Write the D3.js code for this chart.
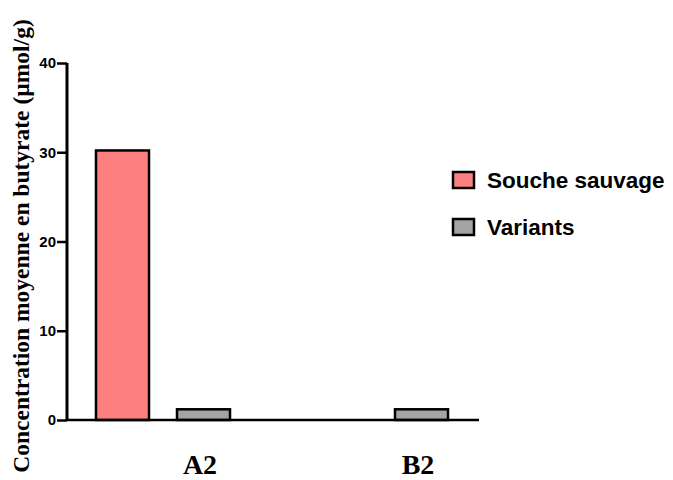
<!DOCTYPE html>
<html>
<head>
<meta charset="utf-8">
<script src="https://cdn.jsdelivr.net/npm/d3@7"></script>
<style>
	body { margin: 0; background: #fff; }
	svg { display: block; }
</style>
</head>
<body>
<div id="chart"></div>
<script>
// Chart data
var categories = ["A2", "B2"];
var seriesNames = ["Souche sauvage", "Variants"];
var wildValues = [30.2, null];
var variantValues = [1.2, 1.2];
var yTicks = [0, 10, 20, 30, 40];
var colors = ["#ff8080", "#a3a3a8"];

var width = 673, height = 480;

var svg = d3.select("#chart").append("svg")
	.attr("width", width)
	.attr("height", height);

// Scales
var y = d3.scaleLinear().domain([0, 40]).range([420, 63]);
var x0 = d3.scaleBand().domain(categories).range([96, 532]);
var bw = 53;

// Bars
var rows = [];
categories.forEach(function (c, i) {
	rows.push({ cat: c, series: seriesNames[0], value: wildValues[i] });
	rows.push({ cat: c, series: seriesNames[1], value: variantValues[i] });
});

svg.selectAll(".bar")
	.data(rows.filter(function (d) { return d.value != null; }))
	.enter().append("rect")
	.attr("class", "bar")
	.attr("x", function (d) { return x0(d.cat) + (d.series == seriesNames[0] ? 0 : 81); })
	.attr("width", bw)
	.attr("y", function (d) { return y(d.value); })
	.attr("height", function (d) { return y(0) - y(d.value); })
	.attr("fill", function (d) { return colors[seriesNames.indexOf(d.series)]; })
	.attr("stroke", "#000")
	.attr("stroke-width", 2.5);

// Y axis
var yAxis = svg.append("g")
	.attr("transform", "translate(67,0)")
	.call(d3.axisLeft(y).tickValues(yTicks).tickSize(10).tickPadding(1).tickFormat(d3.format("d")));
yAxis.select(".domain").attr("stroke", "#000").attr("stroke-width", 3).attr("d", "M0," + y(40) + "V" + y(0));
yAxis.selectAll(".tick line").attr("stroke", "#000").attr("stroke-width", 2.5);
yAxis.selectAll(".tick text")
	.attr("fill", "#000")
	.style("font-family", "Arial, 'Liberation Sans', sans-serif")
	.style("font-weight", "bold")
	.style("font-size", "15px");

// X axis line
svg.append("line")
	.attr("x1", 66).attr("x2", 479)
	.attr("y1", y(0)).attr("y2", y(0))
	.attr("stroke", "#000").attr("stroke-width", 2.5);

// Category labels
svg.selectAll(".cat")
	.data(categories)
	.enter().append("text")
	.attr("class", "cat")
	.attr("x", function (d) { return x0(d) + 104; })
	.attr("y", 474)
	.attr("text-anchor", "middle")
	.style("font-family", "'Liberation Serif', 'Times New Roman', serif")
	.style("font-weight", "bold")
	.style("font-size", "28px")
	.text(function (d) { return d; });

// Y title
svg.append("text")
	.attr("transform", "translate(29,246) rotate(-90)")
	.attr("text-anchor", "middle")
	.style("font-family", "'Liberation Serif', 'Times New Roman', serif")
	.style("font-weight", "bold")
	.style("font-size", "23.5px")
	.text("Concentration moyenne en butyrate (µmol/g)");

// Legend
var legend = svg.selectAll(".legend")
	.data(seriesNames)
	.enter().append("g")
	.attr("class", "legend")
	.attr("transform", function (d, i) { return "translate(453," + (172 + i * 47) + ")"; });
legend.append("rect")
	.attr("width", 21).attr("height", 16)
	.attr("fill", function (d, i) { return colors[i]; })
	.attr("stroke", "#000").attr("stroke-width", 2.5);
legend.append("text")
	.attr("x", 34).attr("y", 15.5)
	.style("font-family", "Arial, 'Liberation Sans', sans-serif")
	.style("font-weight", "bold")
	.style("font-size", "22.5px")
	.text(function (d) { return d; });
</script>
</body>
</html>
